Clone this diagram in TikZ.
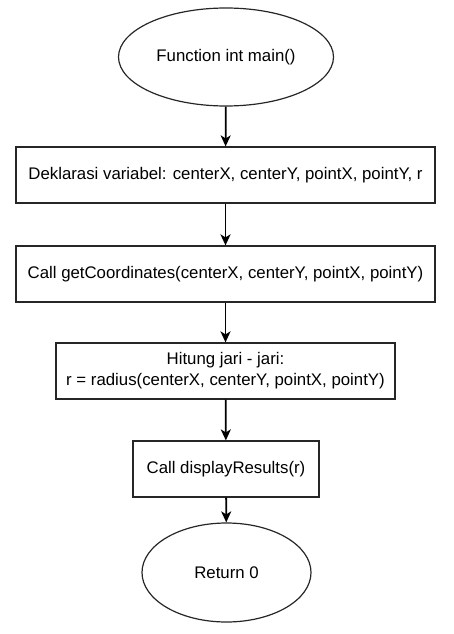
\documentclass[tikz,border=0pt]{standalone}
\usepackage{fontspec}
\setmainfont{Liberation Sans}
\usetikzlibrary{shapes.geometric,arrows.meta}
\begin{document}
\begin{tikzpicture}[x=1pt,y=-1pt,
  every node/.style={font=\fontsize{16.8}{21}\selectfont, line width=1.2pt, draw=black!85, inner sep=0pt, align=center},
  term/.style={ellipse},
  proc/.style={rectangle},
  flow/.style={line width=1.8pt, draw=black, -{Stealth[length=11pt,width=10pt,inset=3pt]}}]
\useasboundingbox (0,0) rectangle (454,634);
\node[term, minimum width=215pt, minimum height=98pt] (start) at (226,57) {Function int main()};
\node[proc, minimum width=419pt, minimum height=56pt] (decl) at (225.5,175) {Deklarasi variabel: centerX, centerY, pointX, pointY, r};
\node[proc, minimum width=419pt, minimum height=56pt] (get) at (225.5,274) {Call getCoordinates(centerX, centerY, pointX, pointY)};
\node[proc, minimum width=339pt, minimum height=56pt] (calc) at (225.5,371) {Hitung jari - jari:\\r = radius(centerX, centerY, pointX, pointY)};
\node[proc, minimum width=186pt, minimum height=56pt] (disp) at (226,469) {Call displayResults(r)};
\node[term, minimum width=169pt, minimum height=99pt] (ret) at (226.5,572.5) {Return 0};
\draw[flow] (start) -- (decl);
\draw[flow] (decl) -- (get);
\draw[flow] (get) -- (calc);
\draw[flow] (calc) -- (disp);
\draw[flow] (disp) -- (ret);
\end{tikzpicture}
\end{document}
